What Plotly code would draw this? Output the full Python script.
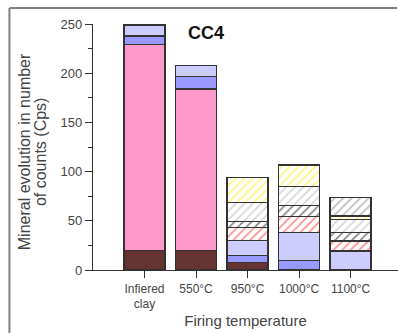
import plotly.graph_objects as go

categories = ["Infiered<br>clay", "550°C", "950°C", "1000°C", "1100°C"]
brown = [20, 20, 7.4, 0, 0]
pink = [209, 164, 0, 0, 0]
blue = [9, 12.5, 7.5, 9.5, 0]
lavender = [11, 11.5, 14.9, 28.8, 19.4]
red_hatch = [0, 0, 13.6, 15.9, 10.1]
black_hatch = [0, 0, 5.7, 11.2, 8.4]
gray_hatch = [0, 0, 19.3, 19.4, 13.6]
yellow_hatch = [0, 0, 25.8, 21.7, 3.4]
darkgray_hatch = [0, 0, 0, 0, 18.6]

series = [
    ("brown", brown, "#663333", None),
    ("pink", pink, "#ff99cc", None),
    ("blue", blue, "#9999ff", None),
    ("lavender", lavender, "#ccccff", None),
    ("red", red_hatch, "white", "#ff2222"),
    ("black", black_hatch, "white", "#111111"),
    ("gray", gray_hatch, "white", "#b0b0b0"),
    ("yellow", yellow_hatch, "white", "#ffee00"),
    ("darkgray", darkgray_hatch, "white", "#808080"),
]

fig = go.Figure()
for name, vals, col, hatch in series:
    marker = dict(color=col, line=dict(color="#333333", width=1.5))
    if hatch:
        marker["pattern"] = dict(shape="/", fgcolor=hatch, bgcolor="white",
                                 size=6, solidity=0.3)
    fig.add_trace(go.Bar(x=categories, y=vals, name=name, marker=marker,
                         width=0.8, showlegend=False))

txt = "#444444"
fig.update_layout(
    barmode="stack",
    width=398, height=333,
    margin=dict(l=93, r=0, t=24, b=63),
    paper_bgcolor="white", plot_bgcolor="white",
    font=dict(family="Liberation Sans, Arial, sans-serif", size=12, color=txt),
    xaxis=dict(
        range=[-1, 4.92], showline=True, linecolor="#333333", linewidth=1.2,
        ticks="outside", ticklen=7, tickcolor="#333333", showgrid=False,
        tickfont=dict(size=12, color=txt),
        title=dict(text="Firing temperature", font=dict(size=15, color=txt), standoff=5),
    ),
    yaxis=dict(
        range=[0, 250], showline=True, linecolor="#333333", linewidth=1.2,
        ticks="outside", ticklen=7, tickcolor="#333333", showgrid=False,
        tickvals=[0, 50, 100, 150, 200, 250], zeroline=False,
        minor=dict(tickvals=[25, 75, 125, 175, 225], ticks="outside", ticklen=4,
                   tickcolor="#333333"),
        tickfont=dict(size=13, color=txt),
    ),
    annotations=[
        dict(text="<b>CC4</b>", x=0.37, y=0.965, xref="paper", yref="paper",
             showarrow=False, font=dict(size=18, color="#111111"),
             xanchor="center", yanchor="middle"),
        dict(text="Mineral evolution in number", textangle=-90,
             x=-0.222, y=0.48, xref="paper", yref="paper", showarrow=False,
             font=dict(size=16, color=txt), xanchor="center", yanchor="middle"),
        dict(text="of counts (Cps)", textangle=-90,
             x=-0.17, y=0.48, xref="paper", yref="paper", showarrow=False,
             font=dict(size=16, color=txt), xanchor="center", yanchor="middle"),
    ],
    shapes=[
        dict(type="line", xref="paper", yref="paper", x0=-0.274, x1=0.997,
             y0=1.065, y1=1.065, line=dict(color="#808080", width=2)),
        dict(type="line", xref="paper", yref="paper", x0=-0.274, x1=-0.274,
             y0=1.065, y1=-0.3, line=dict(color="#808080", width=2)),
    ],
)

fig.write_html("out.html")
